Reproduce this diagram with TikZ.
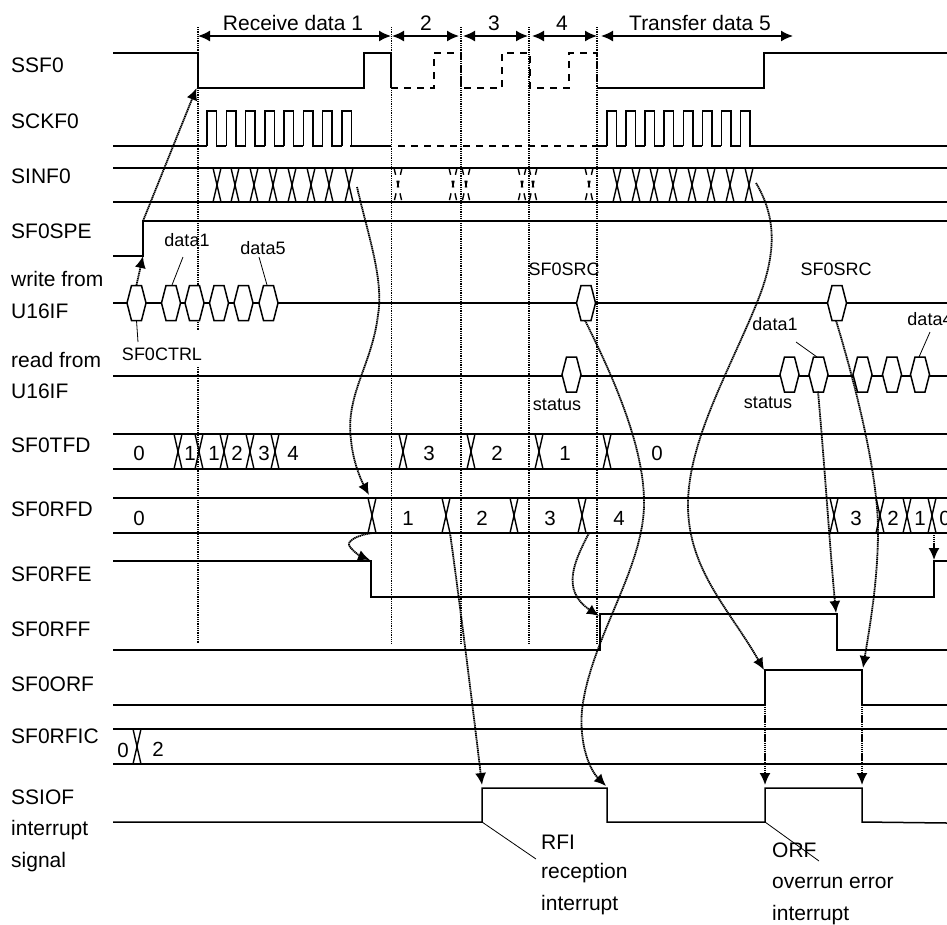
\documentclass[tikz,border=0pt]{standalone}
\usepackage{fontspec}
\setmainfont{Liberation Sans}
\usetikzlibrary{arrows.meta}
\tikzset{
  wave/.style={line width=1.5pt,draw=black},
  dashwave/.style={wave,dash pattern=on 7pt off 6pt},
  guide/.style={line width=1.2pt,draw=black,dash pattern=on 1pt off 0.8pt},
  span/.style={{Latex[length=12pt,width=11pt]}-{Latex[length=12pt,width=11pt]},line width=1.6pt},
  cause/.style={-{Latex[length=12pt,width=11pt]},line width=1.8pt,dash pattern=on 1.3pt off 0.6pt},
  leader/.style={line width=0.8pt},
  siglabel/.style={anchor=west,inner sep=0pt,font=\fontsize{21}{24}\selectfont},
  small/.style={inner sep=0pt,font=\fontsize{18}{20}\selectfont},
  value/.style={inner sep=0pt,font=\fontsize{20.5}{24}\selectfont}
}
\newcommand{\hexdata}[2]{\draw[wave,fill=white] (#1-9.5,#2) -- (#1-5,#2-17.5) -- (#1+5,#2-17.5)
  -- (#1+9.5,#2) -- (#1+5,#2+17.5) -- (#1-5,#2+17.5) -- cycle;}
\newcommand{\xover}[3]{\draw[wave,line width=1.4pt] (#1-4,#2) -- (#1+4,#3) (#1+4,#2) -- (#1-4,#3);}
\begin{document}
\begin{tikzpicture}[x=1pt,y=-1pt]
  \useasboundingbox (0,0) rectangle (947,924);

  % timing guides
  \draw[guide] (198,27) -- (198,330) (198,367) -- (198,644);
  \foreach \xpos in {391.5,461,529,597}
    \draw[guide] (\xpos,27) -- (\xpos,644);

  % spans
  \draw[span] (198,36) -- (391,36);
  \draw[span] (392,36) -- (459,36);
  \draw[span] (463,36) -- (528,36);
  \draw[span] (532,36) -- (597,36);
  \draw[span] (601,36) -- (793,36);
  \node[siglabel,anchor=center] (spanone) at (293,23) {Receive data 1};
  \node[siglabel,anchor=center] (spantwo) at (426,23) {2};
  \node[siglabel,anchor=center] (spanthree) at (494,23) {3};
  \node[siglabel,anchor=center] (spanfour) at (562,23) {4};
  \node[siglabel,anchor=center] (spanfive) at (700,23) {Transfer data 5};

  % signal names
  \node[siglabel] (ssf) at (11,65) {SSF0};
  \node[siglabel] (sck) at (11,121) {SCKF0};
  \node[siglabel] (sin) at (11,176) {SINF0};
  \node[siglabel] (spe) at (11,231) {SF0SPE};
  \node[siglabel] (wrone) at (11,279) {write from};
  \node[siglabel] (wrtwo) at (11,311) {U16IF};
  \node[siglabel] (rdone) at (11,360) {read from};
  \node[siglabel] (rdtwo) at (11,391) {U16IF};
  \node[siglabel] (tfd) at (11,445) {SF0TFD};
  \node[siglabel] (rfd) at (11,509) {SF0RFD};
  \node[siglabel] (rfe) at (11,574) {SF0RFE};
  \node[siglabel] (rff) at (11,629) {SF0RFF};
  \node[siglabel] (orf) at (11,684) {SF0ORF};
  \node[siglabel] (rfic) at (11,736) {SF0RFIC};
  \node[siglabel] (ssio) at (11,797) {SSIOF};
  \node[siglabel] (irqone) at (11,830) {interrupt};
  \node[siglabel] (irqtwo) at (11,862) {signal};

  % SSF0
  \draw[wave] (113,53) -- (198,53) -- (198,88) -- (364,88) -- (364,53) -- (391,53) -- (391,88);
  \draw[dashwave] (391,88) -- (434,88) -- (434,53) -- (461,53) -- (461,88) -- (502,88) -- (502,53)
    -- (530,53) -- (530,88) -- (569,88) -- (569,53) -- (597,53) -- (597,88);
  \draw[wave] (597,88) -- (764,88) -- (764,53) -- (947,53);

  % SCKF0
  \draw[wave] (113,146) -- (207,146);
  \foreach \k in {0,...,7}
    \draw[wave] ({207+19.25*\k},146) -- ({207+19.25*\k},111) -- ({216.6+19.25*\k},111)
      -- ({216.6+19.25*\k},146) -- ({226.25+19.25*\k},146);
  \draw[wave] (350,146) -- (391,146);
  \draw[dashwave] (398,146) -- (592,146);
  \draw[wave] (592,146) -- (607,146);
  \foreach \k in {0,...,7}
    \draw[wave] ({607+19.07*\k},146) -- ({607+19.07*\k},111) -- ({616.5+19.07*\k},111)
      -- ({616.5+19.07*\k},146) -- ({626.07+19.07*\k},146);
  \draw[wave] (749,146) -- (947,146);

  % SINF0
  \draw[wave] (113,168) -- (947,168) (113,202) -- (947,202);
  \foreach \xpos in {217,235,254,273,292,311,329,349,617,636,654,673,692,711,730,749}
    {\xover{\xpos}{168}{202}}
  \foreach \xpos in {398,453,466,522,533,589}
    \draw[dashwave,line width=1.4pt] (\xpos-4,168) -- (\xpos+4,202) (\xpos+4,168) -- (\xpos-4,202);

  % SF0SPE
  \draw[wave] (113,256) -- (143,256) -- (143,221) -- (947,221);

  % write and read bus
  \draw[wave] (113,303) -- (947,303);
  \foreach \xpos in {136.5,171,194.5,219,243.5,268.5,586,837}
    {\hexdata{\xpos}{303}}
  \draw[wave] (113,376) -- (947,376);
  \foreach \xpos in {571.5,789.5,818.5,862.5,892,920}
    {\hexdata{\xpos}{374.5}}

  % SF0TFD
  \draw[wave] (113,434) -- (947,434) (113,469) -- (947,469);
  \foreach \xpos in {178,199,224,250,275,403,471,539,607}
    {\xover{\xpos}{434}{469}}
  \node[value] (tfdzero) at (139,453) {0};
  \node[value] (tfdone) at (190,453) {1};
  \node[value] (tfdonex) at (214,453) {1};
  \node[value] (tfdtwo) at (237,453) {2};
  \node[value] (tfdthree) at (264,453) {3};
  \node[value] (tfdfour) at (293,453) {4};
  \node[value] (tfdthreex) at (429,453) {3};
  \node[value] (tfdtwox) at (497,453) {2};
  \node[value] (tfdonexx) at (565,453) {1};
  \node[value] (tfdzerox) at (657,453) {0};

  % SF0RFD
  \draw[wave] (113,498) -- (947,498) (113,533) -- (947,533);
  \foreach \xpos in {372,446,514,582,834,880,907,932}
    {\xover{\xpos}{498}{533}}
  \node[value] (rfdzero) at (139,518) {0};
  \node[value] (rfdone) at (408,518) {1};
  \node[value] (rfdtwo) at (482,518) {2};
  \node[value] (rfdthree) at (550,518) {3};
  \node[value] (rfdfour) at (619,518) {4};
  \node[value] (rfdthreex) at (856,518) {3};
  \node[value] (rfdtwox) at (893,518) {2};
  \node[value] (rfdonex) at (920,518) {1};
  \node[value] (rfdzerox) at (945,518) {0};

  % flags
  \draw[wave] (113,561) -- (371,561) -- (371,597) -- (934,597) -- (934,561) -- (947,561);
  \draw[wave] (113,650) -- (600,650) -- (600,614) -- (837,614) -- (837,650) -- (947,650);
  \draw[wave] (113,705) -- (765,705) -- (765,670) -- (862,670) -- (862,705) -- (947,705);

  % SF0RFIC
  \draw[wave] (113,729) -- (947,729) (113,764) -- (947,764);
  \xover{137}{729}{764}
  \node[value] (ficzero) at (123,750) {0};
  \node[value] (fictwo) at (158,749) {2};

  % interrupt signal
  \draw[wave] (113,822) -- (482,822) -- (482,788) -- (607,788) -- (607,822) -- (765,822)
    -- (765,788) -- (862,788) -- (862,822) -- (947,823);

  % bus notes
  \node[small] (dataone) at (187,240) {data1};
  \node[small] (datafive) at (263,248) {data5};
  \node[small] (ctrl) at (162,354) {SF0CTRL};
  \node[small] (srcone) at (564,269) {SF0SRC};
  \node[small] (srctwo) at (836,269) {SF0SRC};
  \node[small] (statone) at (557,405) {status};
  \node[small] (stattwo) at (768,403) {status};
  \node[small] (datarx) at (775,324) {data1};
  \node[small] (datafour) at (930,319) {data4};
  \coordinate (hexa) at (172,285);
  \coordinate (hexb) at (267,285);
  \coordinate (hexc) at (136.5,320.5);
  \coordinate (hexd) at (817,357);
  \coordinate (hexe) at (919,357);
  \draw[leader] (183,257) -- (hexa);
  \draw[leader] (259,257) -- (hexb);
  \draw[leader] (hexc) -- (138,342);
  \draw[leader] (796,342) -- (hexd);
  \draw[leader] (930,332) -- (hexe);

  % causes
  \coordinate (speup) at (143,221);
  \coordinate (ssfdown) at (196.5,88);
  \coordinate (ctrlhex) at (136.5,285);
  \coordinate (spelow) at (143,256);
  \draw[cause] (speup) -- (ssfdown);
  \draw[cause] (ctrlhex) -- (spelow);
  \coordinate (sinend) at (357,187);
  \coordinate (rfdin) at (369,495);
  \draw[cause] (sinend) .. controls (368,235) and (384,280) .. (378,315)
    .. controls (372,365) and (345,395) .. (351,440) .. controls (353,462) and (361,480) .. (rfdin);
  \coordinate (rfdlow) at (372,533);
  \coordinate (rfefall) at (370,560);
  \draw[cause] (rfdlow) .. controls (358,535) and (345,541) .. (350,547) .. controls (354,552) and (360,556) .. (rfefall);
  \coordinate (rfdb) at (450,533);
  \coordinate (irqup) at (482,785);
  \draw[cause] (rfdb) .. controls (458,590) and (472,700) .. (irqup);
  \coordinate (rfdc) at (589,533);
  \coordinate (rffup) at (599,616);
  \draw[cause] (rfdc) .. controls (575,560) and (560,590) .. (rffup);
  \coordinate (srchex) at (585,320.5);
  \coordinate (irqdown) at (606,786);
  \draw[cause] (srchex) .. controls (615,380) and (645,450) .. (644,505)
    .. controls (643,570) and (590,640) .. (582,710) .. controls (579,745) and (590,770) .. (irqdown);
  \coordinate (sintail) at (756,183);
  \coordinate (orfup) at (764,670);
  \draw[cause] (sintail) .. controls (775,215) and (778,250) .. (758,300)
    .. controls (730,370) and (688,440) .. (688,505) .. controls (688,570) and (730,610) .. (orfup);
  \coordinate (rdhex) at (818,391.5);
  \coordinate (rffdown) at (836,613);
  \draw[cause] (rdhex) .. controls (825,470) and (830,550) .. (rffdown);
  \coordinate (srcb) at (836,320.5);
  \coordinate (orfdown) at (863,668);
  \draw[cause] (srcb) .. controls (860,400) and (878,480) .. (878,530) .. controls (878,580) and (870,625) .. (orfdown);
  \coordinate (rfdd) at (934,533);
  \coordinate (rfeup) at (934,560);
  \draw[cause] (rfdd) -- (rfeup);
  \coordinate (orfa) at (765,705);
  \coordinate (irqa) at (765,785);
  \coordinate (orfb) at (862,705);
  \coordinate (irqb) at (862,785);
  \draw[cause] (orfa) -- (irqa);
  \draw[cause] (orfb) -- (irqb);

  % interrupt notes
  \coordinate (rfipulse) at (482,822);
  \coordinate (orfpulse) at (765,822);
  \node[siglabel] (rfi) at (541,842) {RFI};
  \node[siglabel] (rfia) at (541,873) {reception};
  \node[siglabel] (rfib) at (541,905) {interrupt};
  \node[siglabel] (orfname) at (772,850) {ORF};
  \node[siglabel] (orfa2) at (772,883) {overrun error};
  \node[siglabel] (orfb2) at (772,915) {interrupt};
  \draw[leader] (rfipulse) -- (536,859);
  \draw[leader] (orfpulse) -- (819,861);
\end{tikzpicture}
\end{document}
